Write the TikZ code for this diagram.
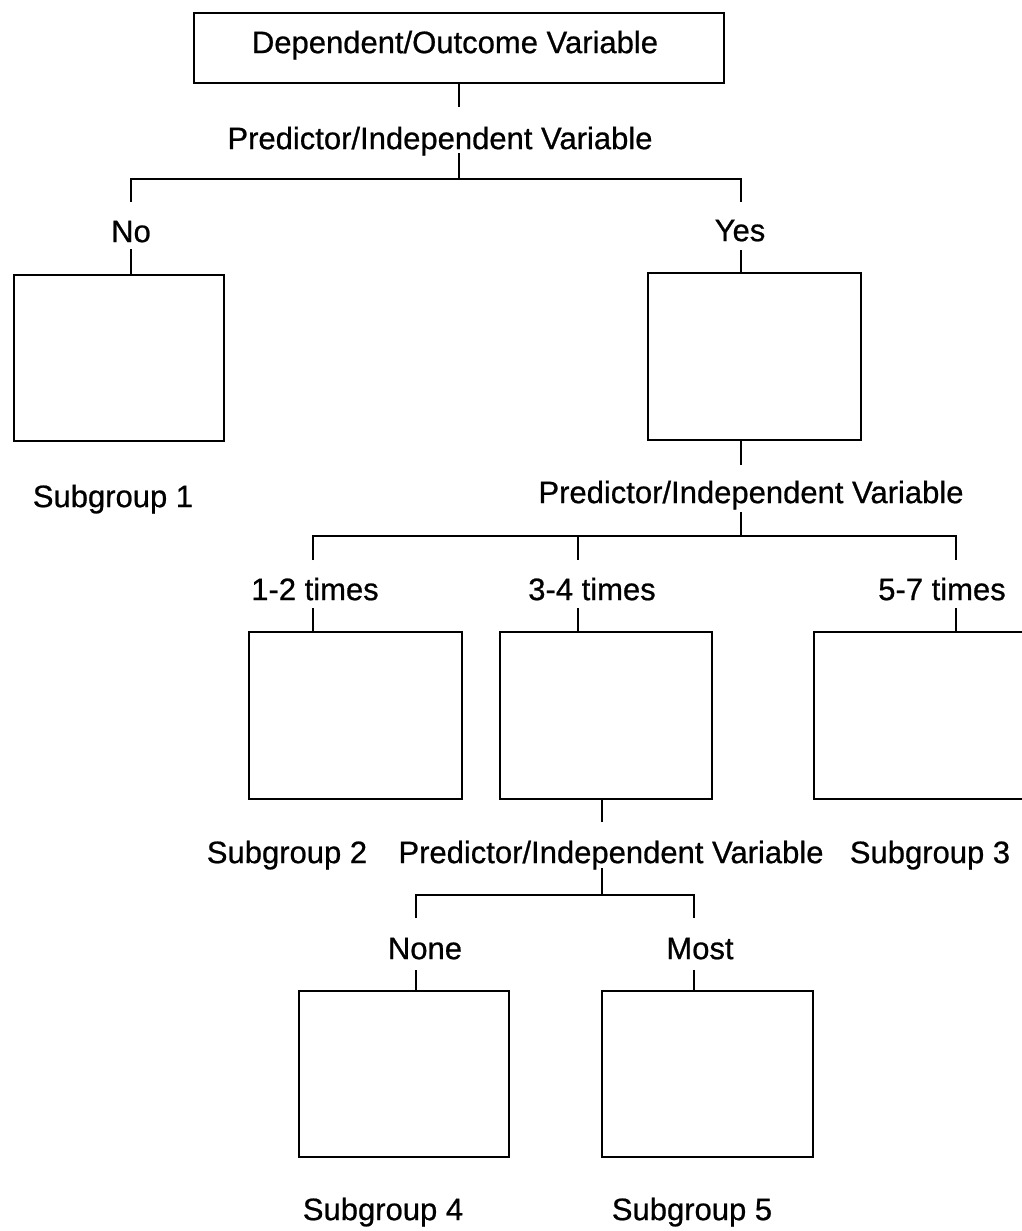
\documentclass[tikz,border=0pt]{standalone}
\usepackage{fontspec}
\setmainfont[FakeBold=0.7]{Liberation Sans}
\begin{document}
\begin{tikzpicture}[x=0.5pt,y=-0.5pt,line width=1.4pt,
  bx/.style 2 args={draw,inner sep=0pt,minimum width=#1*0.5pt,minimum height=#2*0.5pt},
  lbl/.style={inner sep=0pt,text height=11.1pt,text depth=0pt,font=\fontsize{15.5pt}{18pt}\selectfont}]
\useasboundingbox (0,0) rectangle (1022,1231);
% ---- level 0
\node[bx={530}{70}] (top) at (459,48) {};
\node[lbl] (toptext) at (455,42) {Dependent/Outcome Variable};
\coordinate (t0) at (459,107);
\draw (top.south) -- (t0);
\node[lbl] (p1) at (440,138) {Predictor/Independent Variable};
% ---- level 1
\coordinate (t1) at (459,153);
\coordinate (bar1L) at (131,179);
\coordinate (bar1R) at (741,179);
\coordinate (noT) at (131,202);
\coordinate (yesT) at (741,202);
\coordinate (noB) at (131,249);
\coordinate (yesB) at (741,250);
\draw (t1) -- (t1 |- bar1L);
\draw (noT) -- (bar1L) -- (bar1R) -- (yesT);
\node[lbl] (no) at (131,231) {No};
\node[lbl] (yes) at (740,230) {Yes};
\node[bx={210}{166}] (box1) at (119,358) {};
\node[bx={213}{167}] (boxyes) at (754.5,356.5) {};
\draw (noB) -- (noB |- box1.north);
\draw (yesB) -- (yesB |- boxyes.north);
\node[lbl] (sg1) at (113,496) {Subgroup 1};
\coordinate (y2) at (741,465);
\draw (y2 |- boxyes.south) -- (y2);
\node[lbl] (p2) at (751,492) {Predictor/Independent Variable};
% ---- level 2
\coordinate (t2) at (741,512);
\coordinate (bar2L) at (313,536);
\coordinate (bar2M) at (578,536);
\coordinate (bar2R) at (956,536);
\coordinate (a1T) at (313,560);
\coordinate (a2T) at (578,560);
\coordinate (a3T) at (956,560);
\coordinate (a1B) at (313,608);
\coordinate (a2B) at (578,608);
\coordinate (a3B) at (956,608);
\draw (t2) -- (t2 |- bar2L);
\draw (a1T) -- (bar2L) -- (bar2R) -- (a3T);
\draw (bar2M) -- (a2T);
\node[lbl] (l12) at (315,589) {1-2 times};
\node[lbl] (l34) at (592,589) {3-4 times};
\node[lbl] (l57) at (942,589) {5-7 times};
\node[bx={213}{167}] (box2) at (355.5,715.5) {};
\node[bx={212}{167}] (box3) at (606,715.5) {};
\node[bx={213}{167}] (box4) at (920.5,715.5) {};
\draw (a1B) -- (a1B |- box2.north);
\draw (a2B) -- (a2B |- box3.north);
\draw (a3B) -- (a3B |- box4.north);
\node[lbl] (sg2) at (287,852) {Subgroup 2};
\node[lbl] (p3) at (611,852) {Predictor/Independent Variable};
\node[lbl] (sg3) at (930,852) {Subgroup 3};
\coordinate (b3d) at (602,822);
\draw (b3d |- box3.south) -- (b3d);
% ---- level 3
\coordinate (t3) at (602,868);
\coordinate (bar3L) at (416,895);
\coordinate (bar3R) at (694,895);
\coordinate (nT) at (416,918);
\coordinate (mT) at (694,918);
\coordinate (nB) at (416,970);
\coordinate (mB) at (694,970);
\draw (t3) -- (t3 |- bar3L);
\draw (nT) -- (bar3L) -- (bar3R) -- (mT);
\node[lbl] (none) at (425,948) {None};
\node[lbl] (most) at (700,948) {Most};
\node[bx={210}{166}] (box5) at (404,1074) {};
\node[bx={211}{166}] (box6) at (707.5,1074) {};
\draw (nB) -- (nB |- box5.north);
\draw (mB) -- (mB |- box6.north);
\node[lbl] (sg4) at (383,1209) {Subgroup 4};
\node[lbl] (sg5) at (692,1209) {Subgroup 5};
\end{tikzpicture}
\end{document}
